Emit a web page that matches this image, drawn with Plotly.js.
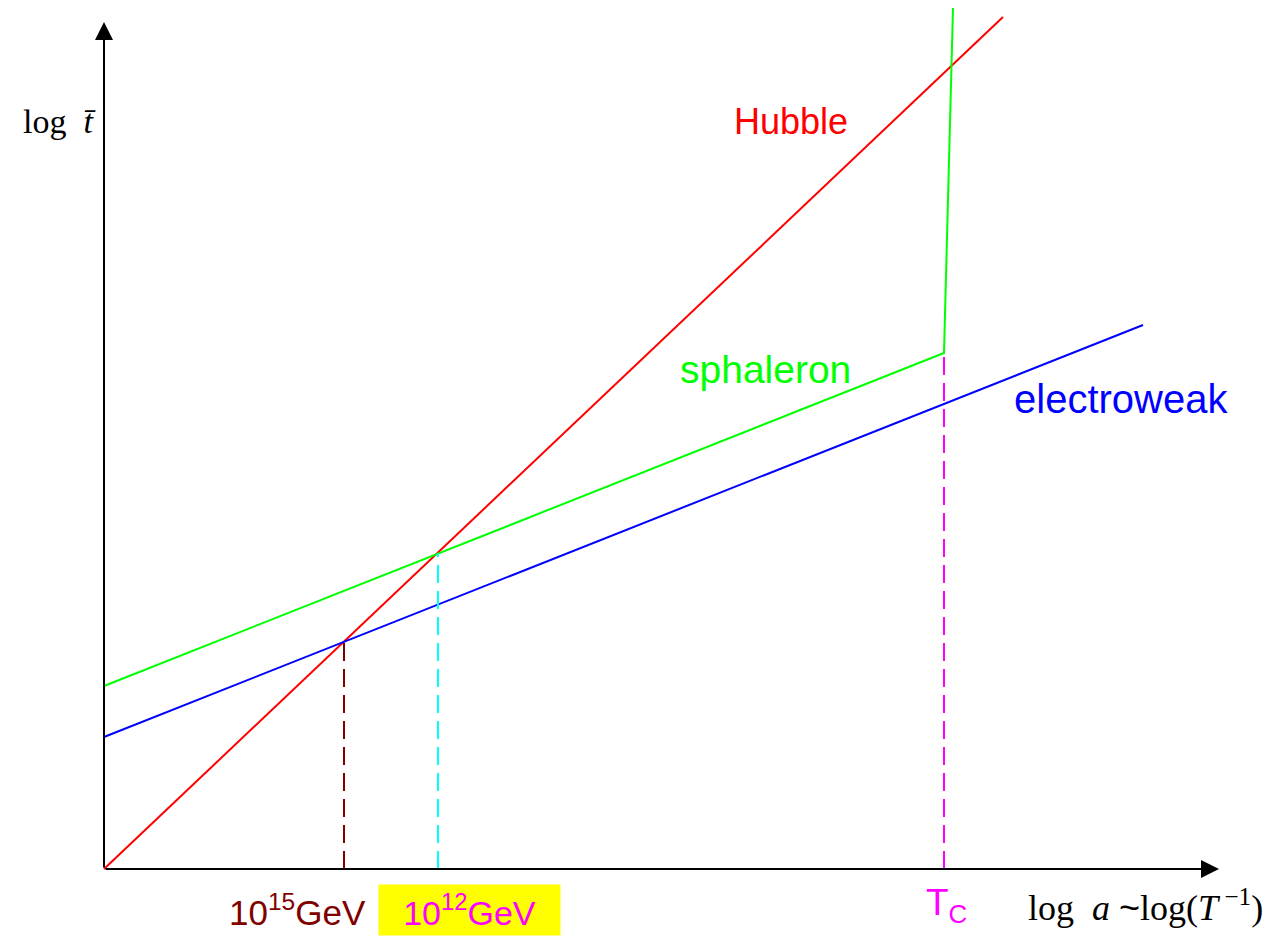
<!DOCTYPE html>
<html>
<head>
<meta charset="utf-8">
<script src="https://cdn.plot.ly/plotly-3.0.1.min.js"></script>
<style>html,body{margin:0;padding:0;background:#fff;}</style>
</head>
<body>
<div id="chart" style="width:1274px;height:936px;"></div>
<script>
// log a (arbitrary units) vs log t-bar (arbitrary units)
const hubbleX = [0, 899];
const hubbleY = [0, 852];
const sphaleronX = [0, 840, 849];
const sphaleronY = [183, 516, 861];
const electroweakX = [0, 1039];
const electroweakY = [132, 544];
// crossing points dropped to the axis: 10^15 GeV, 10^12 GeV, T_c
const dropX = [240, 334, 840];
const dropTop = [227, 316, 516];
const dropColors = ['#800000', '#00ffff', '#ff00ff'];
// axis arrow tips
const axisEndX = 1115;
const axisEndY = 847;

const traces = [
  {x: hubbleX, y: hubbleY, mode: 'lines', line: {color: '#ff0000', width: 2}, hoverinfo: 'skip'},
  {x: sphaleronX, y: sphaleronY, mode: 'lines', line: {color: '#00ff00', width: 2}, hoverinfo: 'skip'},
  {x: electroweakX, y: electroweakY, mode: 'lines', line: {color: '#0000ff', width: 2}, hoverinfo: 'skip'}
];
dropX.forEach((dx, i) => {
  traces.push({x: [dx, dx], y: [0, dropTop[i]], mode: 'lines',
    line: {color: dropColors[i], width: 2, dash: '18px,8px'}, hoverinfo: 'skip'});
});

const sans = 'Liberation Sans, Arial, sans-serif';
const serif = 'Liberation Serif, Times New Roman, serif';
const base = {xref: 'paper', yref: 'paper', xanchor: 'center', yanchor: 'middle', showarrow: false};
const arrowBase = {xref: 'x', yref: 'y', axref: 'x', ayref: 'y', ax: 0, ay: 0, text: '',
  showarrow: true, arrowhead: 2, arrowsize: 1.8, arrowwidth: 2, arrowcolor: '#000'};
const annotations = [
  Object.assign({}, arrowBase, {x: axisEndX, y: 0}),
  Object.assign({}, arrowBase, {x: 0, y: axisEndY}),
  Object.assign({}, base, {x: -0.0342, y: 0.8603, text: 'log  <i>t̄</i>',
   font: {family: serif, size: 34, color: '#000'}}),
  Object.assign({}, base, {x: 0.894, y: -0.0367,
   text: 'log  <i>a</i> <span style="font-family:Liberation Sans">~</span>log(<i>T</i><sup> −1</sup>)',
   font: {family: serif, size: 36, color: '#000'}}),
  Object.assign({}, base, {x: 0.5902, y: 0.8603, text: 'Hubble',
   font: {family: sans, size: 36, color: '#ff0000'}}),
  Object.assign({}, base, {x: 0.5692, y: 0.5762, text: 'sphaleron',
   font: {family: sans, size: 39, color: '#00ff00'}}),
  Object.assign({}, base, {x: 0.8726, y: 0.5430, text: 'electroweak',
   font: {family: sans, size: 40, color: '#0000ff'}}),
  Object.assign({}, base, {x: 0.1684, y: -0.0424, text: '10<sup>15</sup>GeV',
   font: {family: sans, size: 35, color: '#800000'}}),
  Object.assign({}, base, {x: 0.3162, y: -0.0424, text: '10<sup>12</sup>GeV',
   width: 177, height: 46, borderpad: 2, bgcolor: '#ffff00',
   font: {family: sans, size: 34, color: '#ff00ff'}}),
  Object.assign({}, base, {x: 0.7231, y: -0.0367, text: 'T<sub>C</sub>',
   font: {family: sans, size: 37, color: '#ff00ff'}})
];

const layout = {
  width: 1274, height: 936,
  margin: {l: 100, r: 4, t: 0, b: 63},
  paper_bgcolor: '#fff', plot_bgcolor: '#fff',
  showlegend: false,
  xaxis: {range: [-4, 1166], visible: false, fixedrange: true},
  yaxis: {range: [-4, 869], visible: false, fixedrange: true},
  annotations: annotations
};
Plotly.newPlot('chart', traces, layout, {displayModeBar: false, staticPlot: true});
</script>
</body>
</html>
